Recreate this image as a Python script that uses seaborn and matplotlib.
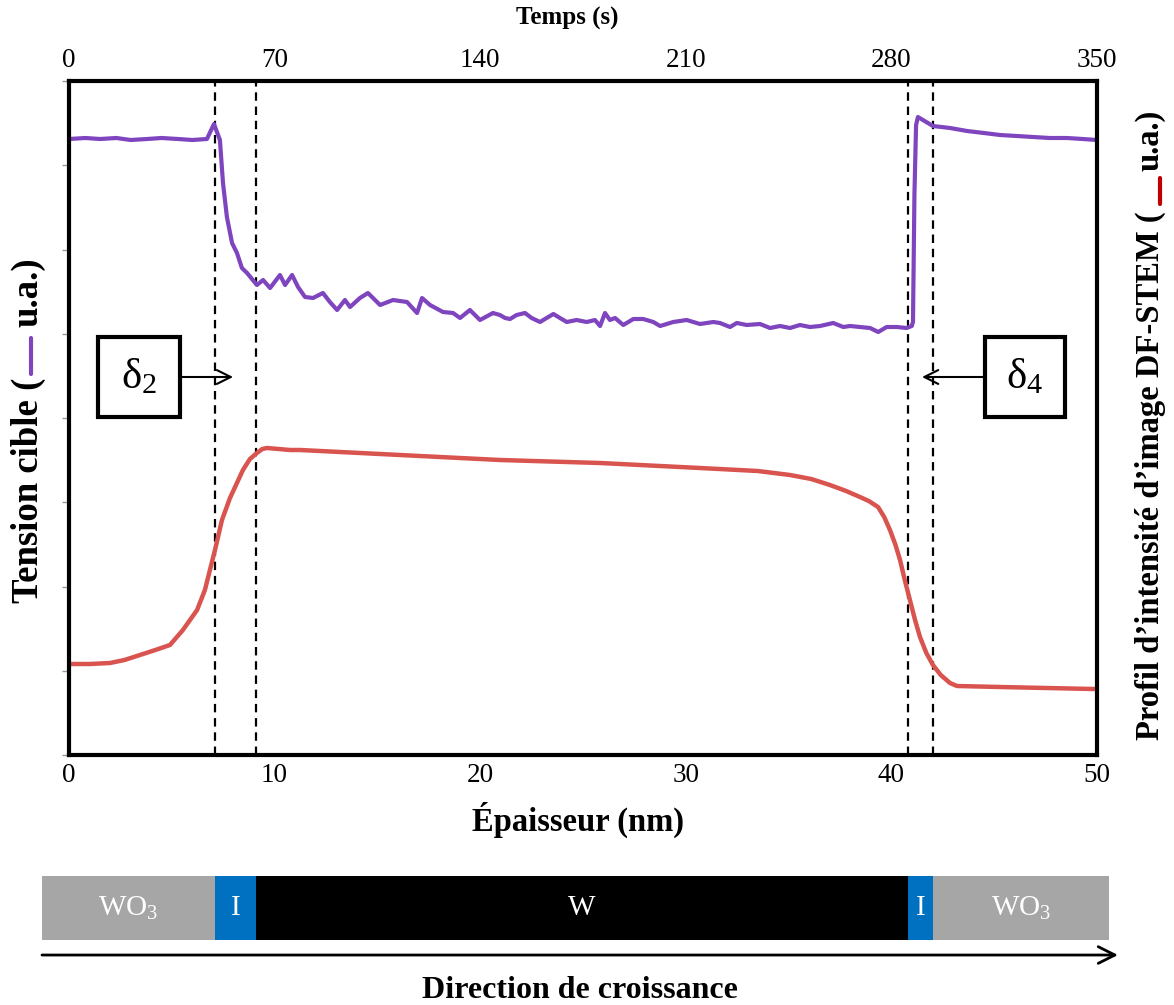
import numpy as np
import pandas as pd
import matplotlib
matplotlib.use("Agg")
import matplotlib.pyplot as plt
from matplotlib.patches import Rectangle
from matplotlib.lines import Line2D
import seaborn as sns

# ---------------- data ----------------
# Tension cible (purple), x in nm, y in arbitrary units
tension_x = [0.00, 0.80, 1.51, 2.30, 3.00, 3.80, 4.50, 5.30, 6.00, 6.71, 7.05, 7.34, 7.49, 7.68,
             7.93, 8.17, 8.41, 8.66, 9.14, 9.44, 9.78, 10.26, 10.51, 10.85, 11.14, 11.48, 11.87,
             12.35, 12.69, 13.04, 13.42, 13.67, 14.15, 14.54, 15.13, 15.76, 16.44, 16.93, 17.17,
             17.56, 18.19, 18.68, 19.02, 19.50, 19.99, 20.62,
             20.96, 21.21, 21.45, 21.77, 22.18, 22.50, 22.91, 23.15, 23.56, 23.88, 24.21, 24.69,
             25.18, 25.58, 25.83, 26.07, 26.31, 26.56, 26.96, 27.45, 27.93, 28.42, 28.75, 29.39,
             30.04, 30.69, 31.34, 31.66, 32.15, 32.48, 32.96, 33.61, 34.10, 34.58, 35.07, 35.55,
             36.04, 36.53, 37.17, 37.66, 37.99, 38.47, 38.96, 39.36, 39.77, 40.26, 40.74, 40.99,
             41.05, 41.12, 41.20, 41.29, 42.02, 42.85, 43.68, 44.50, 45.28, 46.10, 46.89,
             47.70, 48.54, 49.30, 50.00]
tension_y = [616, 617, 616, 617, 615, 616, 617, 616, 615, 616, 631, 615, 572, 538,
             512, 502, 487, 482, 470, 475, 467, 480, 470, 480, 468, 458, 457,
             462, 453, 445, 455, 448, 457, 462, 450, 455, 453, 442, 457,
             450, 443, 442, 437, 445, 435, 442,
             440, 437, 436, 440, 442, 437, 433, 436, 441, 437, 433, 435,
             433, 435, 429, 442, 435, 437, 430, 436, 436, 433, 429, 433,
             435, 431, 433, 432, 428, 432, 430, 431, 427, 429, 427, 430,
             428, 429, 432, 428, 429, 428, 427, 423, 428, 428, 427, 429,
             433, 560, 630, 638, 629, 627, 624, 622, 620, 619, 618,
             617, 617, 616, 615]

# Profil d'intensite DF-STEM (red)
profil_x = [0.00, 1.00, 1.99, 2.70, 3.45, 4.20, 4.91, 5.54, 6.23, 6.61, 7.10, 7.44, 7.83,
            8.46, 8.80, 9.14, 9.40, 9.63, 10.20, 10.75, 11.24, 16.10, 20.96, 25.83, 30.69,
            33.50, 35.07, 36.10, 37.01, 37.80, 38.47, 38.90, 39.35, 39.65, 39.93, 40.20,
            40.42, 40.65, 40.90, 41.15, 41.39, 41.70, 42.02, 42.40, 42.85, 43.19, 45.28,
            49.81, 50.00]
profil_y = [91, 91, 92, 95, 100, 105, 110, 125, 145, 165, 205, 235, 257,
            285, 296, 302, 306, 307, 306, 305, 305, 300, 295, 292, 287,
            284, 280, 276, 270, 264, 258, 254, 248, 238, 225, 210,
            195, 175, 155, 135, 118, 102, 90, 80, 72, 69, 68,
            66, 66]

# interface positions (nm)
interfaces = [7.10, 9.10, 40.81, 42.02]

# layer stack below the chart
layer_names = [r"$\mathregular{WO_3}$", "I", "W", "I", r"$\mathregular{WO_3}$"]
layer_edges = [-1.31, 7.10, 9.10, 40.81, 42.02, 50.58]
layer_colors = ["#A6A6A6", "#0070C0", "#000000", "#0070C0", "#A6A6A6"]

x_ticks = [0, 10, 20, 30, 40, 50]
t_ticks = [0, 70, 140, 210, 280, 350]

PURPLE = "#7E45BE"
RED = "#D9534F"

# ---------------- style ----------------
sns.set_style("white")
plt.rcParams["font.family"] = ["Liberation Serif", "DejaVu Serif"]
plt.rcParams["mathtext.fontset"] = "custom"
plt.rcParams["mathtext.rm"] = "Liberation Serif"
for k in ["text.color", "axes.labelcolor", "xtick.color", "ytick.color"]:
    plt.rcParams[k] = "black"

W, H = 1174, 1005
fig = plt.figure(figsize=(W / 100, H / 100), dpi=100)

def fx(px):
    return px / W

def fy(py):
    return 1 - py / H

ax = fig.add_axes([fx(69), fy(755), (1097 - 69) / W, (755 - 81) / H])

df_t = pd.DataFrame({"x": tension_x, "y": tension_y})
df_p = pd.DataFrame({"x": profil_x, "y": profil_y})
sns.lineplot(data=df_t, x="x", y="y", ax=ax, color=PURPLE, lw=3.0, sort=False)
sns.lineplot(data=df_p, x="x", y="y", ax=ax, color=RED, lw=3.2, sort=False)

for xi in interfaces:
    ax.axvline(xi, color="black", lw=1.6, dashes=(3.8, 2.6), zorder=1)

ax.set_xlim(0, 50)
ax.set_ylim(0, 674)
ax.set_xticks(x_ticks)
ax.set_xticklabels([str(v) for v in x_ticks], fontsize=19.5)
ax.set_yticks(np.arange(0, 674.1, 674 / 8))
ax.set_yticklabels([])
ax.tick_params(axis="x", length=0, pad=6)
ax.tick_params(axis="y", left=True, right=False, length=5, width=1, color="#999999", direction="out")
ax.set_xlabel("")
ax.set_ylabel("")
for s in ax.spines.values():
    s.set_linewidth(3)
    s.set_color("black")

sec = ax.secondary_xaxis("top", functions=(lambda x: x * 7, lambda t: t / 7))
sec.set_xticks(t_ticks)
sec.set_xticklabels([str(v) for v in t_ticks], fontsize=19.5)
sec.tick_params(length=0, pad=6)

fig.text(fx(567), fy(18), "Temps (s)", ha="center", va="center", fontsize=18, fontweight="bold")
fig.text(fx(578), fy(820), "Épaisseur (nm)", ha="center", va="center", fontsize=23.5,
         fontweight="bold")

# delta boxes with arrows
def delta_box(x0, x1, label, arrow_to):
    y0, y1 = 755 - 417, 755 - 337
    ax.add_patch(Rectangle((x0, y0), x1 - x0, y1 - y0, fill=False, lw=3, ec="black", zorder=5))
    ax.text((x0 + x1) / 2, (y0 + y1) / 2, label, ha="center", va="center", fontsize=31, zorder=6)
    start = x1 if arrow_to > x1 else x0
    ax.annotate("", xy=(arrow_to, (y0 + y1) / 2), xytext=(start, (y0 + y1) / 2),
                arrowprops=dict(arrowstyle="->", lw=1.5, color="black", mutation_scale=25,
                                shrinkA=0, shrinkB=0), zorder=6)

delta_box(1.41, 5.40, r"$\mathregular{\delta_2}$", 7.98)
delta_box(44.55, 48.44, r"$\mathregular{\delta_4}$", 41.49)

# y-axis labels with coloured dashes
fig.text(fx(28), fy(603), "Tension cible (", rotation=90, ha="center", va="bottom",
         fontsize=26.5, fontweight="bold")
fig.add_artist(Line2D([fx(31), fx(31)], [fy(374), fy(338)], color=PURPLE, lw=3))
fig.text(fx(28), fy(257), "u.a.)", rotation=90, ha="center", va="top",
         fontsize=26.5, fontweight="bold")

fig.text(fx(1150), fy(740), "Profil d\u2019intensité d\u2019image DF-STEM (", rotation=90,
         ha="center", va="bottom", fontsize=23.5, fontweight="bold")
fig.add_artist(Line2D([fx(1160), fx(1160)], [fy(204), fy(178)], color="#C00000", lw=3))
fig.text(fx(1150), fy(110), "u.a.)", rotation=90, ha="center", va="top",
         fontsize=23.5, fontweight="bold")

# layer stack
axb = fig.add_axes([fx(42), fy(965), (1118 - 42) / W, 95 / H])
axb.set_xlim((42 - 69) / 20.56, (1118 - 69) / 20.56)
axb.set_ylim(0, 1)
lefts = layer_edges[:-1]
widths = [b - a for a, b in zip(layer_edges[:-1], layer_edges[1:])]
axb.barh(y=[0.6] * len(lefts), width=widths, left=lefts, height=0.674, color=layer_colors,
         edgecolor="none")
for name, l, w in zip(layer_names, lefts, widths):
    axb.text(l + w / 2, 0.6, name, ha="center", va="center", color="white", fontsize=21)
axb.annotate("", xy=(1.0, 0.105), xytext=(0.0, 0.105), xycoords="axes fraction",
             arrowprops=dict(arrowstyle="->", lw=2, color="black", mutation_scale=30,
                             shrinkA=0, shrinkB=0))
axb.axis("off")

fig.text(fx(580), fy(990), "Direction de croissance", ha="center", va="center",
         fontsize=23, fontweight="bold")

fig.savefig("out.png", dpi=100)
